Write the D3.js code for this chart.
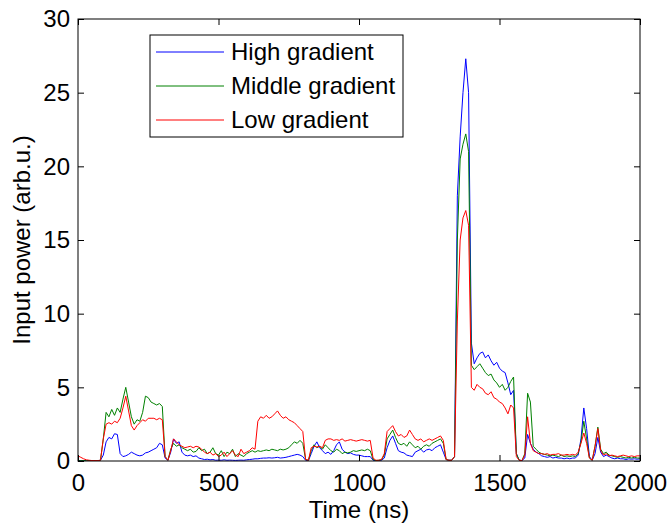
<!DOCTYPE html>
<html lang="en">
<head>
    <meta charset="UTF-8">
    <title>Input power vs time</title>
    <script src="https://d3js.org/d3.v7.min.js"></script>
    <style>
        body { margin: 0; background: #fff; }
        text { font-family: "Liberation Sans", Arial, sans-serif; fill: #000; }
    </style>
</head>
<body>
<svg id="main" width="671" height="524"></svg>
<script>
    // sampled every 10 ns, 0 .. 2000 ns
    const times = d3.range(0, 2001, 10);

    const highGradient = [
        0.05,0.02,0.03,0.02,0.03,0.02,0.03,0.02,0.05,0.4,
        1.3,1.6,1.5,1.85,1.8,0.5,0.3,0.35,0.45,0.6,
        0.5,0.4,0.35,0.4,0.55,0.6,0.7,0.8,0.9,1.2,
        1.1,0.2,0.05,0.6,1.5,1.2,1.3,0.6,0.4,0.35,
        0.4,0.3,0.35,0.2,0.15,0.1,0.12,0.08,0.1,0.05,
        0.06,0.05,0.08,0.05,0.06,0.05,0.04,0.05,0.06,0.05,
        0.08,0.1,0.12,0.15,0.15,0.18,0.2,0.2,0.22,0.2,
        0.22,0.25,0.2,0.22,0.25,0.3,0.35,0.4,0.45,0.4,
        0.3,0.05,0.02,0.5,1.0,1.3,0.9,0.7,0.5,0.6,
        0.45,0.7,1.1,1.3,0.8,0.6,0.5,0.55,0.45,0.4,
        0.4,0.35,0.3,0.3,0.3,0.05,0.02,0.03,0.05,0.2,
        0.9,1.4,1.7,1.2,0.7,0.6,0.55,0.4,0.35,0.3,
        0.6,0.7,0.8,0.6,0.75,0.8,0.7,0.9,1.0,1.1,
        0.6,0.1,0.05,0.05,0.3,18,22,25,27.3,25,
        8,6.6,7.0,7.3,7.4,7.0,7.2,6.8,6.5,6.7,
        6.3,6.1,6.0,5.3,4.5,4.8,0.5,0.05,0.03,0.2,
        1.8,1.2,0.8,0.6,0.5,0.35,0.3,0.25,0.3,0.2,
        0.25,0.2,0.2,0.15,0.2,0.15,0.2,0.2,0.4,1.5,
        3.6,2.2,0.3,0.05,0.5,1.6,0.6,0.3,0.4,0.3,
        0.2,0.15,0.2,0.15,0.15,0.1,0.15,0.12,0.15,0.12,
        0.15
    ];

    const middleGradient = [
        0.02,0.02,0.03,0.02,0.03,0.02,0.03,0.02,0.05,1.5,
        3.3,3.0,3.5,3.1,3.6,3.3,4.2,5.0,4.0,3.0,
        2.5,2.8,2.7,3.3,4.4,4.3,4.0,3.9,3.8,3.9,
        3.7,0.3,0.05,0.8,1.2,1.0,1.1,0.9,0.8,0.7,
        0.8,0.6,0.65,0.9,0.7,0.8,0.5,0.6,0.9,0.5,
        0.4,0.7,0.3,0.6,0.5,0.8,0.3,0.5,0.4,0.3,
        0.5,0.6,0.7,0.6,0.7,0.65,0.7,0.75,0.7,0.8,
        0.75,0.7,0.8,0.75,0.8,0.9,1.1,1.3,1.2,1.4,
        1.2,0.1,0.05,0.7,1.1,0.9,1.0,0.8,1.1,0.9,
        0.7,0.6,0.8,0.7,0.5,0.6,0.55,0.6,0.7,0.65,
        0.7,0.75,0.7,0.8,0.7,0.1,0.03,0.05,0.08,0.4,
        1.5,1.8,2.1,1.6,1.2,1.1,1.2,1.0,1.3,1.1,
        0.9,1.0,0.8,1.0,1.1,1.0,1.2,1.3,1.4,1.5,
        1.2,0.1,0.05,0.05,0.3,15,20.5,21.5,22.2,21,
        6.5,6.2,6.4,6.6,6.3,6.0,5.8,5.9,5.5,5.3,
        5.0,5.2,4.8,5.0,5.4,5.7,0.5,0.05,0.03,0.5,
        4.6,4.0,1.0,0.8,0.6,0.5,0.45,0.4,0.35,0.4,
        0.35,0.3,0.4,0.3,0.35,0.3,0.35,0.3,0.5,1.3,
        2.7,1.5,0.2,0.05,1.0,2.3,0.8,0.5,0.6,0.4,
        0.35,0.3,0.25,0.3,0.25,0.2,0.25,0.2,0.25,0.2,
        0.2
    ];

    const lowGradient = [
        0.35,0.25,0.15,0.08,0.05,0.03,0.03,0.03,0.05,1.5,
        2.5,2.6,2.5,2.7,2.6,2.9,3.6,4.4,3.4,2.4,
        2.1,2.4,2.6,2.8,2.7,2.9,2.9,2.9,2.8,2.9,
        2.8,0.3,0.05,0.7,1.5,1.3,1.1,1.0,0.9,0.95,
        1.0,0.9,1.0,0.95,0.8,0.6,0.5,0.6,0.4,0.5,
        0.3,0.4,0.6,0.3,0.5,0.7,0.4,0.3,0.8,0.5,
        0.6,0.7,0.9,0.8,2.7,3.0,2.9,3.1,2.9,3.0,
        3.2,3.4,3.1,2.9,3.0,2.8,2.7,2.6,2.4,2.2,
        2.0,0.1,0.05,0.9,1.0,0.95,1.0,0.9,1.4,1.5,
        1.5,1.4,1.45,1.4,1.5,1.35,1.4,1.45,1.4,1.35,
        1.4,1.45,1.4,1.35,1.4,0.2,0.05,0.05,0.1,0.5,
        2.0,2.2,2.4,2.0,1.7,1.8,1.6,1.7,2.1,1.8,
        1.5,1.4,1.5,1.3,1.4,1.5,1.4,1.5,1.6,1.7,
        1.4,0.1,0.05,0.05,0.3,9.5,15,16.5,17,16,
        5.0,4.8,5.2,5.0,4.9,4.6,4.5,4.7,4.3,4.2,
        4.0,3.9,3.6,3.2,3.8,3.6,0.3,0.05,0.03,0.4,
        3.0,1.2,0.7,0.6,0.5,0.5,0.45,0.5,0.4,0.45,
        0.45,0.5,0.4,0.4,0.45,0.4,0.45,0.4,0.6,1.2,
        1.9,1.2,0.2,0.05,1.0,2.2,0.7,0.4,0.5,0.35,
        0.4,0.35,0.3,0.35,0.4,0.35,0.3,0.35,0.3,0.35,
        0.35
    ];

    const seriesNames = ['High gradient', 'Middle gradient', 'Low gradient'];
    const seriesColors = ['#0000ff', '#008000', '#ff0000'];
    const xTicks = [0, 500, 1000, 1500, 2000];
    const yTicks = [0, 5, 10, 15, 20, 25, 30];

    let svg = d3.select('svg#main');
    let plot = {left: 78, right: 640, top: 19, bottom: 461};
    let fontSize = 24;

    let xScale = d3.scaleLinear().domain([0, 2000]).range([plot.left, plot.right]);
    let yScale = d3.scaleLinear().domain([0, 30]).range([plot.bottom, plot.top]);

    svg.append('defs').append('clipPath').attr('id', 'clip')
        .append('rect')
        .attr('x', plot.left).attr('y', plot.top)
        .attr('width', plot.right - plot.left).attr('height', plot.bottom - plot.top);

    // lines, high first so low ends on top
    let series = [highGradient, middleGradient, lowGradient];
    let line = d3.line()
        .x(function (d, i) { return xScale(times[i]); })
        .y(function (d) { return yScale(d); });

    svg.append('g').attr('clip-path', 'url(#clip)')
        .selectAll('path')
        .data(series)
        .enter()
        .append('path')
        .attr('d', line)
        .attr('fill', 'none')
        .attr('stroke', function (d, i) { return seriesColors[i]; })
        .attr('stroke-width', 1);

    // axes with inward ticks (matlab style)
    let xAxis = svg.append('g')
        .attr('transform', 'translate(0,' + plot.bottom + ')')
        .call(d3.axisBottom(xScale).tickValues(xTicks).tickFormat(d3.format('d'))
            .tickSizeInner(-6).tickSizeOuter(0).tickPadding(13));
    let xTop = svg.append('g')
        .attr('transform', 'translate(0,' + plot.top + ')')
        .call(d3.axisTop(xScale).tickValues(xTicks).tickSizeInner(-6).tickSizeOuter(0).tickFormat(''));
    let yAxis = svg.append('g')
        .attr('transform', 'translate(' + plot.left + ',0)')
        .call(d3.axisLeft(yScale).tickValues(yTicks).tickSizeInner(-6).tickSizeOuter(0).tickPadding(8));
    let yRight = svg.append('g')
        .attr('transform', 'translate(' + plot.right + ',0)')
        .call(d3.axisRight(yScale).tickValues(yTicks).tickSizeInner(-6).tickSizeOuter(0).tickFormat(''));

    svg.selectAll('.domain').remove();
    svg.selectAll('.tick line').attr('stroke', '#000');
    svg.selectAll('.tick text')
        .style('font-family', '"Liberation Sans", Arial, sans-serif')
        .style('font-size', fontSize + 'px')
        .attr('fill', '#000');

    svg.append('rect')
        .attr('x', plot.left).attr('y', plot.top)
        .attr('width', plot.right - plot.left).attr('height', plot.bottom - plot.top)
        .attr('fill', 'none').attr('stroke', '#000').attr('stroke-width', 1);

    // axis titles
    svg.append('text')
        .attr('x', (plot.left + plot.right) / 2).attr('y', 518)
        .attr('text-anchor', 'middle')
        .style('font-size', fontSize + 'px')
        .text('Time (ns)');
    svg.append('text')
        .attr('transform', 'translate(30,' + (plot.top + plot.bottom) / 2 + ') rotate(-90)')
        .attr('text-anchor', 'middle')
        .style('font-size', fontSize + 'px')
        .text('Input power (arb.u.)');

    // legend
    let legend = svg.append('g');
    legend.append('rect')
        .attr('x', 150).attr('y', 35).attr('width', 253).attr('height', 102)
        .attr('fill', '#fff').attr('stroke', '#000').attr('stroke-width', 1);
    let rows = legend.selectAll('g.row')
        .data(seriesNames)
        .enter()
        .append('g')
        .attr('class', 'row')
        .attr('transform', function (d, i) { return 'translate(0,' + (52 + i * 34) + ')'; });
    rows.append('line')
        .attr('x1', 156).attr('x2', 224)
        .attr('stroke', function (d, i) { return seriesColors[i]; })
        .attr('stroke-width', 1);
    rows.append('text')
        .attr('x', 231).attr('dy', '0.35em')
        .style('font-size', fontSize + 'px')
        .text(function (d) { return d; });
</script>
</body>
</html>
